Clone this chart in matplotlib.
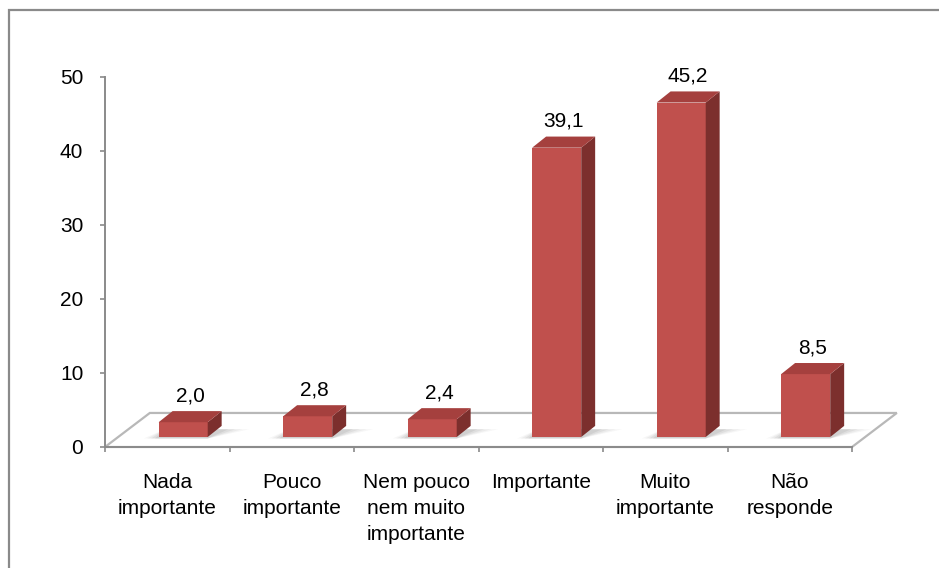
import matplotlib
matplotlib.use("Agg")
import matplotlib.pyplot as plt
from matplotlib.patches import Polygon, Rectangle

plt.rcParams['font.family'] = ['Liberation Sans', 'DejaVu Sans']

# Survey answers and their percentages
categories = ["Nada\nimportante", "Pouco\nimportante", "Nem pouco\nnem muito\nimportante",
              "Importante", "Muito\nimportante", "Não\nresponde"]
values = [2.0, 2.8, 2.4, 39.1, 45.2, 8.5]
value_labels = ["2,0", "2,8", "2,4", "39,1", "45,2", "8,5"]
y_ticks = [0, 10, 20, 30, 40, 50]

W, H, DPI = 939, 568, 100
fig = plt.figure(figsize=(W / DPI, H / DPI), dpi=DPI)
fig.patch.set_facecolor("white")

# chart-area border (runs off the right and bottom edges)
fig.patches.append(Rectangle((9 / W, -0.1), 1.2, 1.1 - 10 / H, transform=fig.transFigure,
                             fill=False, edgecolor="#8a8a8a", linewidth=1.6, zorder=0))

ax = fig.add_axes([105 / W, (H - 447) / H, 747 / W, 370 / H])
ax.set_xlim(-0.5, len(values) - 0.5)
ax.set_ylim(0, 50)
ax.patch.set_alpha(0)

# pseudo-3D geometry (in data units)
floor_dx, floor_dy = 0.36, 4.6     # depth of the floor
front_dx, front_dy = 0.128, 1.35   # bar front face sits slightly back from the floor edge
bar_w = 0.394
side_dx, side_dy = 0.112, 1.5      # bar depth

front_col = "#C0504D"
side_col = "#7C2F2D"
top_col = "#A5403E"

FS = 15

# floor
n = len(values)
floor = Polygon([(-0.5, 0), (n - 0.5, 0), (n - 0.5 + floor_dx, floor_dy), (-0.5 + floor_dx, floor_dy)],
                closed=True, facecolor="white", edgecolor="#b8b8b8", linewidth=1.6,
                clip_on=False, zorder=1)
ax.add_patch(floor)

for i, (v, lab) in enumerate(zip(values, value_labels)):
    x0 = i - bar_w / 2 + front_dx
    x1 = x0 + bar_w
    yb = front_dy
    yt = yb + v

    # soft shadow on the floor
    for k, a in zip([1.0, 0.75, 0.5, 0.25], [0.06, 0.08, 0.10, 0.12]):
        sh = Polygon([(x0 - 0.12 * k, yb - 0.2), (x1, yb - 0.2),
                      (x1 + side_dx + 0.22 * k, yb + side_dy * 0.7),
                      (x0 + 0.05, yb + side_dy * 0.7)],
                     closed=True, facecolor="#707070", edgecolor="none", alpha=a,
                     clip_on=False, zorder=2)
        ax.add_patch(sh)

    front = Polygon([(x0, yb), (x1, yb), (x1, yt), (x0, yt)], closed=True,
                    facecolor=front_col, edgecolor="none", clip_on=False, zorder=3)
    side = Polygon([(x1, yb), (x1 + side_dx, yb + side_dy), (x1 + side_dx, yt + side_dy), (x1, yt)],
                   closed=True, facecolor=side_col, edgecolor="none", clip_on=False, zorder=3)
    top = Polygon([(x0, yt), (x1, yt), (x1 + side_dx, yt + side_dy), (x0 + side_dx, yt + side_dy)],
                  closed=True, facecolor=top_col, edgecolor="none", clip_on=False, zorder=3)
    for p in (front, side, top):
        ax.add_patch(p)

    ax.text((x0 + x1 + side_dx) / 2, yt + side_dy + 0.8, lab, ha="center", va="bottom",
            fontsize=FS, color="black", zorder=4, clip_on=False)

# axes lines and ticks
for s in ("top", "right"):
    ax.spines[s].set_visible(False)
for s in ("left", "bottom"):
    ax.spines[s].set_color("#8a8a8a")
    ax.spines[s].set_linewidth(1.4)
    ax.spines[s].set_zorder(5)

ax.set_yticks(y_ticks)
ax.set_yticklabels([str(t) for t in y_ticks], fontsize=FS)
ax.tick_params(axis="y", length=3.6, width=1.2, color="#8a8a8a", pad=12)

ax.set_xticks(range(n))
ax.set_xticklabels(categories, fontsize=FS)
ax.set_xticks([i - 0.5 for i in range(n + 1)], minor=True)
ax.tick_params(axis="x", which="major", length=0, pad=19)
ax.tick_params(axis="x", which="minor", length=3.6, width=1.2, color="#8a8a8a")
for t in ax.get_xticklabels():
    t.set_linespacing(1.45)
    t.set_multialignment("center")

fig.savefig("out.png", dpi=DPI, facecolor="white")
